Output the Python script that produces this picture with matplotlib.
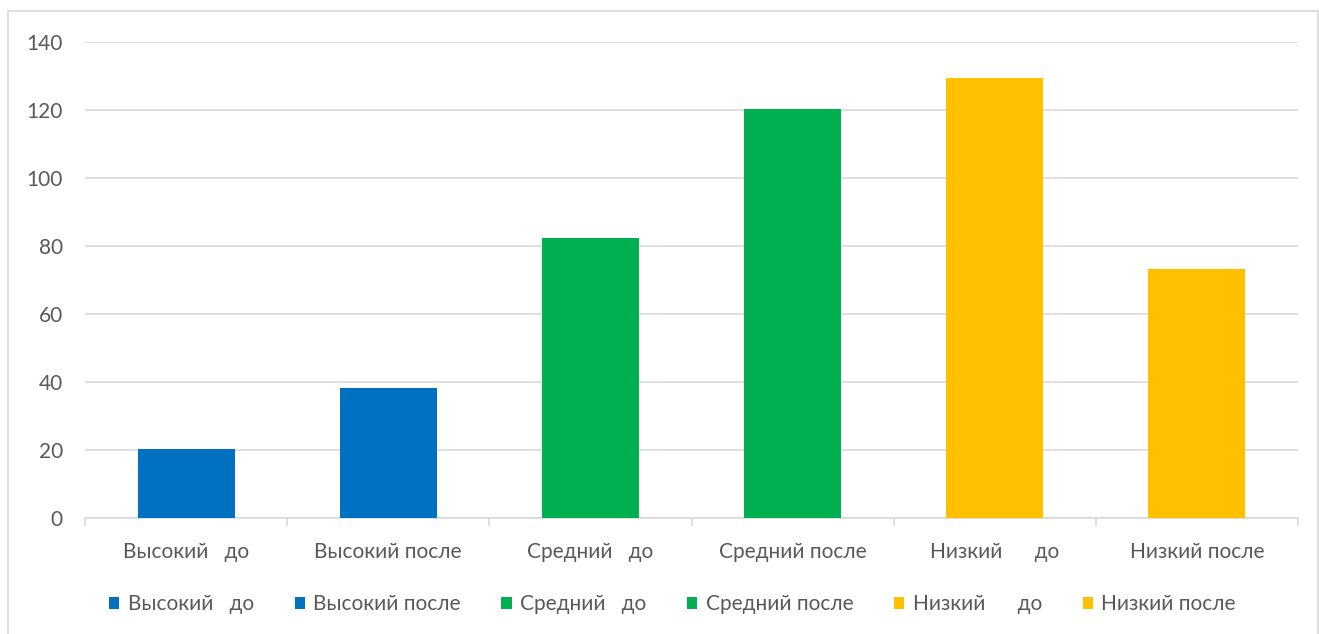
import matplotlib
matplotlib.use("Agg")
import matplotlib.pyplot as plt
from matplotlib.patches import Patch, Rectangle

categories = ["Высокий   до", "Высокий после", "Средний   до", "Средний после", "Низкий      до", "Низкий после"]
legend_labels = ["Высокий   до", "Высокий после", "Средний   до", "Средний после", "Низкий      до", "Низкий после"]
values = [20.3, 38.3, 82.3, 120.4, 129.5, 73.3]
colors = ["#0070C0", "#0070C0", "#00B050", "#00B050", "#FFC000", "#FFC000"]
yticks = [0, 20, 40, 60, 80, 100, 120, 140]

W, H = 1319, 634
FS = 15
plt.rcParams['font.family'] = ['Lato', 'DejaVu Sans']
fig = plt.figure(figsize=(W / 100, H / 100), dpi=100)
fig.patch.set_facecolor("white")
fig.patches.append(Rectangle((8 / W, -0.05), (1318 - 8) / W, 1 - 11 / H + 0.05,
                             transform=fig.transFigure, fill=False,
                             edgecolor="#D9D9D9", linewidth=1.2))

ax = fig.add_axes([85 / W, 1 - 518 / H, (1298 - 85) / W, (518 - 42) / H])
x = list(range(len(categories)))
ax.bar(x, values, width=0.48, color=colors, zorder=3)
ax.set_xlim(-0.5, len(categories) - 0.5)
ax.set_ylim(0, 140)
ax.set_yticks(yticks)
ax.set_yticklabels([str(v) for v in yticks], fontsize=FS, color="#595959")
ax.yaxis.grid(True, color="#D9D9D9", linewidth=1.2, zorder=0)
ax.set_axisbelow(True)
for s in ["top", "right", "left"]:
    ax.spines[s].set_visible(False)
ax.spines["bottom"].set_color("#D9D9D9")
ax.spines["bottom"].set_linewidth(1.2)
ax.tick_params(axis="y", length=0, pad=16)
ax.set_xticks([i - 0.5 for i in range(len(categories) + 1)], minor=False)
ax.set_xticklabels([])
ax.tick_params(axis="x", which="major", length=6, color="#D9D9D9", width=1.2)
ax.set_xticks(x, minor=True)
ax.set_xticklabels(categories, minor=True, fontsize=FS, color="#595959")
ax.tick_params(axis="x", which="minor", length=0, pad=17)

handles = [Patch(facecolor=c) for c in colors]
leg = fig.legend(handles, legend_labels, loc="center", bbox_to_anchor=(0.5 + 13 / W, 1 - 604 / H),
                 ncol=6, frameon=False, fontsize=FS, handlelength=0.5, handleheight=0.5,
                 handletextpad=0.4, columnspacing=1.95, labelcolor="#595959")

fig.savefig("out.png", dpi=100, facecolor="white")
